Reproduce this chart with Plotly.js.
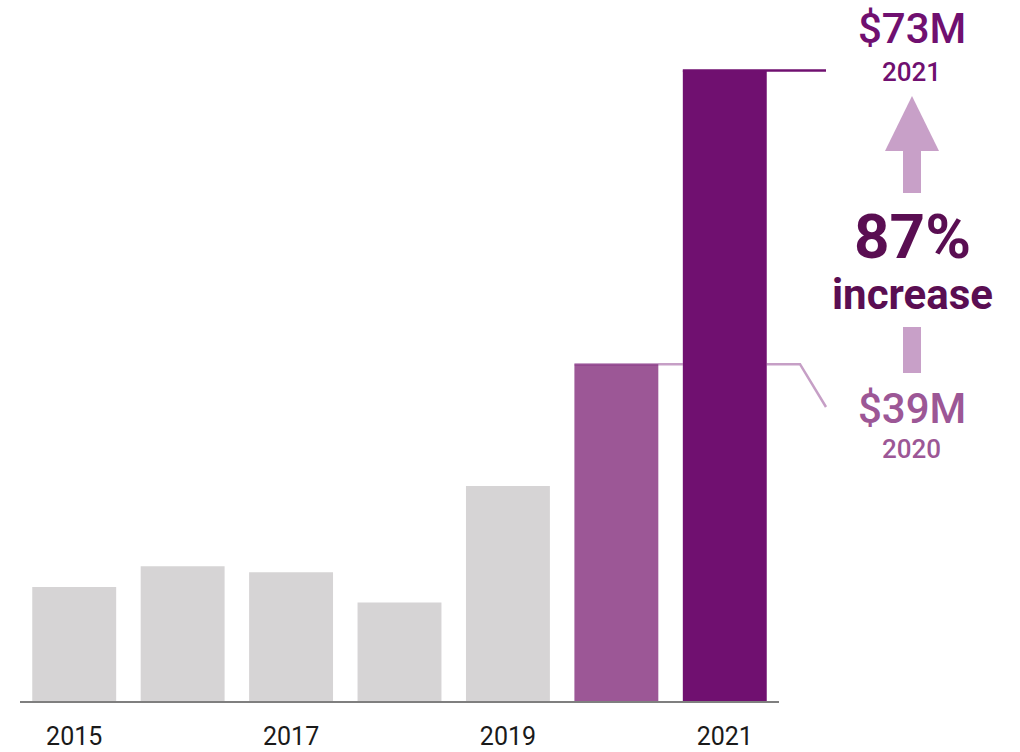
<!DOCTYPE html>
<html><head><meta charset="utf-8">
<script src="https://cdn.plot.ly/plotly-3.0.1.min.js"></script>
<style>html,body{margin:0;padding:0;background:#fff;}#chart{width:1020px;height:752px;}</style>
</head><body><div id="chart"></div>
<script>
const years = ['2015','2016','2017','2018','2019','2020','2021'];
const values = [13.2, 15.6, 14.9, 11.4, 24.9, 39, 73];
const tickYears = ['2015','2017','2019','2021'];
const barColors = ['#d6d4d5','#d6d4d5','#d6d4d5','#d6d4d5','#d6d4d5','#9c5796','#701070'];
const yMax = 80;
const labelTop = '$73M', labelTopYear = '2021';
const labelBottom = '$39M', labelBottomYear = '2020';
const pctText = '87%', incText = 'increase';

const L = 20, R = 241, T = 10, B = 51, W = 1020, H = 752;
const pw = W - L - R;
const n = years.length;
const bargap = 0.226;
const px = i => (i + 0.5) / n;
const half = (1 - bargap) / 2 / n;
const pxAbs = p => (p - L) / pw;
const py = v => v / yMax;
const pyAbs = p => (H - B - p) / (H - T - B);

const i20 = years.indexOf('2020'), i21 = years.indexOf('2021');
const v20 = values[i20], v21 = values[i21];

const shapes = [
  {type:'line', xref:'paper', yref:'paper', x0: px(i21)-half, x1: pxAbs(826), y0: py(v21), y1: py(v21),
   line:{color:'#701070', width:2.5}},
  {type:'line', xref:'paper', yref:'paper', x0: px(i20)-half, x1: px(i21)-half, y0: py(v20), y1: py(v20),
   line:{color:'rgba(112,16,112,0.4)', width:2.5}},
  {type:'path', xref:'paper', yref:'paper',
   path: `M ${px(i21)+half} ${py(v20)} L ${pxAbs(800)} ${py(v20)} L ${pxAbs(826)} ${pyAbs(407)}`,
   line:{color:'rgba(112,16,112,0.4)', width:2.5}},
  {type:'path', xref:'paper', yref:'paper',
   path: `M ${pxAbs(885)} ${pyAbs(151)} L ${pxAbs(912)} ${pyAbs(96)} L ${pxAbs(939)} ${pyAbs(151)} Z`,
   fillcolor:'#c8a0c8', line:{width:0}},
  {type:'rect', xref:'paper', yref:'paper', x0: pxAbs(903), x1: pxAbs(921), y0: pyAbs(193), y1: pyAbs(150),
   fillcolor:'#c8a0c8', line:{width:0}},
  {type:'rect', xref:'paper', yref:'paper', x0: pxAbs(903), x1: pxAbs(921), y0: pyAbs(373), y1: pyAbs(327),
   fillcolor:'#c8a0c8', line:{width:0}}
];

const ann = (text, x, y, size, color, weight) => ({
  text, xref:'paper', yref:'paper', x: pxAbs(x), y: pyAbs(y), xanchor:'center', yanchor:'middle',
  showarrow:false, font:{family:'Roboto', size, color, weight}
});

const annotations = [
  ann(labelTop, 912, 29, 42, '#701070', 500),
  ann(labelTopYear, 911, 72, 26, '#701070', 500),
  ann(pctText, 912, 236, 62, '#5a0e52', 700),
  ann(incText, 912, 294, 42, '#5a0e52', 700),
  ann(labelBottom, 912, 408, 42, '#9c5796', 500),
  ann(labelBottomYear, 911, 449, 26, '#9c5796', 500)
];

Plotly.newPlot('chart', [{
  type:'bar', x: years, y: values, marker:{color: barColors, line:{width:0}},
  hoverinfo:'skip'
}], {
  width: W, height: H,
  margin:{l:L, r:R, t:T, b:B, pad:0},
  paper_bgcolor:'#fff', plot_bgcolor:'#fff',
  bargap: bargap,
  showlegend:false,
  xaxis:{type:'category', range:[-0.5, n-0.5], tickmode:'array', tickvals: tickYears, ticktext: tickYears,
    showline:true, linecolor:'#7f7f7f', linewidth:2, showgrid:false, zeroline:false, ticks:'',
    tickfont:{family:'Roboto', size:25, color:'#1a1a1a'}, ticklabelstandoff: 12},
  yaxis:{range:[0, yMax], visible:false, showgrid:false, zeroline:false},
  shapes, annotations
}, {staticPlot:true, displayModeBar:false});
</script></body></html>
